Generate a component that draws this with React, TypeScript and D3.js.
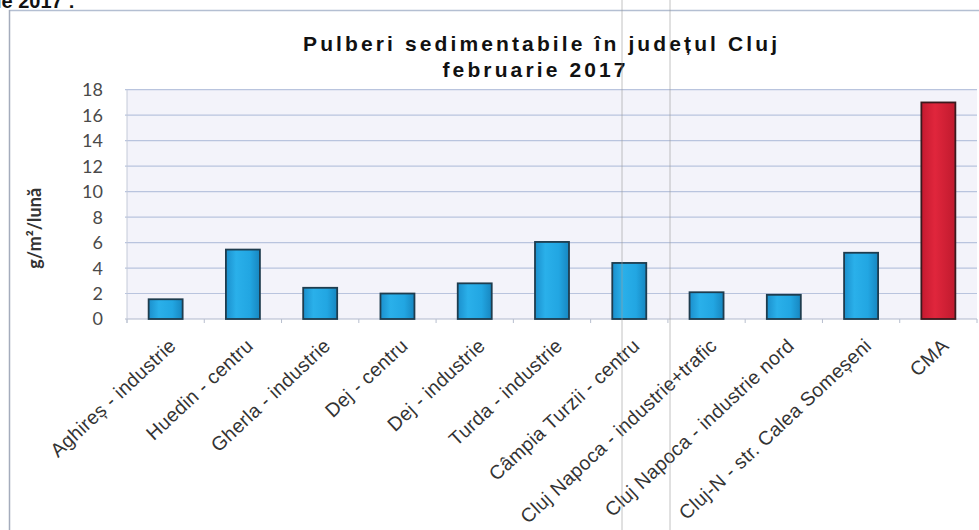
import React, { useRef, useEffect } from 'react';
import * as d3 from 'd3';

// Data
const stations = [
  'Aghireș - industrie',
  'Huedin - centru',
  'Gherla - industrie',
  'Dej - centru',
  'Dej - industrie',
  'Turda - industrie',
  'Câmpia Turzii - centru',
  'Cluj Napoca - industrie+trafic',
  'Cluj Napoca - industrie nord',
  'Cluj-N - str. Calea Someșeni',
  'CMA',
];
const values = [1.55, 5.45, 2.45, 2.0, 2.8, 6.05, 4.4, 2.1, 1.9, 5.2, 17.0];
const yTicks = [0, 2, 4, 6, 8, 10, 12, 14, 16, 18];
const titleLines = ['Pulberi sedimentabile în județul Cluj', 'februarie 2017'];
const yTitle = 'g/m²/lună';

const App = () => {
  const svgRef = useRef<SVGSVGElement>(null);

  useEffect(() => {
    const width = 979;
    const height = 530;
    const plot = { left: 127, right: 977, top: 89.7, bottom: 319 };

    const x = d3.scaleBand<string>()
      .domain(stations)
      .range([plot.left, plot.right])
      .paddingInner(0.56)
      .paddingOuter(0.28);

    const y = d3.scaleLinear()
      .domain([0, 18])
      .range([plot.bottom, plot.top]);

    const svg = d3.select(svgRef.current)
      .attr('width', width)
      .attr('height', height);

    svg.selectAll('*').remove();

    // Gradients for bars
    const defs = svg.append('defs');
    const blue = defs.append('linearGradient').attr('id', 'gBlue')
      .attr('x1', 0).attr('x2', 1).attr('y1', 0).attr('y2', 0);
    blue.append('stop').attr('offset', '0%').attr('stop-color', '#1b8fcc');
    blue.append('stop').attr('offset', '30%').attr('stop-color', '#2ab0ea');
    blue.append('stop').attr('offset', '70%').attr('stop-color', '#22a6e2');
    blue.append('stop').attr('offset', '100%').attr('stop-color', '#1786c0');
    const red = defs.append('linearGradient').attr('id', 'gRed')
      .attr('x1', 0).attr('x2', 1).attr('y1', 0).attr('y2', 0);
    red.append('stop').attr('offset', '0%').attr('stop-color', '#c51a30');
    red.append('stop').attr('offset', '40%').attr('stop-color', '#e0263c');
    red.append('stop').attr('offset', '100%').attr('stop-color', '#c01a2e');

    // Page fragment above the chart (cut by the scan)
    svg.append('text')
      .attr('x', -4).attr('y', 8)
      .attr('font-family', 'Liberation Sans, Arial, sans-serif')
      .attr('font-weight', 'bold')
      .attr('font-size', 20)
      .attr('fill', '#111')
      .text('le 2017 :');

    // Chart frame
    svg.append('line')
      .attr('x1', 9).attr('x2', width).attr('y1', 10.5).attr('y2', 10.5)
      .attr('stroke', '#b4bfd2').attr('stroke-width', 1.5);
    svg.append('line')
      .attr('x1', 9.5).attr('x2', 9.5).attr('y1', 10).attr('y2', height)
      .attr('stroke', '#a4acbc').attr('stroke-width', 1.5);

    // Plot area background
    svg.append('rect')
      .attr('x', plot.left).attr('y', plot.top)
      .attr('width', plot.right - plot.left).attr('height', plot.bottom - plot.top)
      .attr('fill', '#f3f3fa');

    // Grid lines
    svg.append('g')
      .selectAll('line')
      .data(yTicks)
      .enter()
      .append('line')
      .attr('x1', plot.left - 2)
      .attr('x2', plot.right)
      .attr('y1', d => y(d))
      .attr('y2', d => y(d))
      .attr('stroke', d => (d === 0 ? '#b0b8cc' : '#b9c4de'))
      .attr('stroke-width', 1.2);

    svg.append('line')
      .attr('x1', plot.left).attr('x2', plot.left)
      .attr('y1', plot.top).attr('y2', plot.bottom + 4)
      .attr('stroke', '#c4cad8');

    // Category tick marks
    const step = x.step();
    svg.append('g')
      .selectAll('line')
      .data(d3.range(stations.length + 1))
      .enter()
      .append('line')
      .attr('x1', i => plot.left + i * step)
      .attr('x2', i => plot.left + i * step)
      .attr('y1', plot.bottom)
      .attr('y2', plot.bottom + 4)
      .attr('stroke', '#b8bfcf');

    // Y tick labels
    svg.append('g')
      .selectAll('text')
      .data(yTicks)
      .enter()
      .append('text')
      .attr('x', 103)
      .attr('y', d => y(d))
      .attr('dy', '0.36em')
      .attr('text-anchor', 'end')
      .attr('font-family', 'Lato, Open Sans, sans-serif')
      .attr('font-size', 18)
      .attr('fill', '#4a4a4a')
      .text(d => d);

    // Y axis title
    svg.append('text')
      .attr('transform', `translate(41,${(plot.top + plot.bottom) / 2 + 24}) rotate(-90)`)
      .attr('text-anchor', 'middle')
      .attr('font-family', 'Lato, Open Sans, sans-serif')
      .attr('font-weight', 'bold')
      .attr('font-size', 18)
      .attr('fill', '#333')
      .text(yTitle);

    // Bars
    svg.append('g')
      .selectAll('rect')
      .data(stations)
      .enter()
      .append('rect')
      .attr('x', d => x(d) as number)
      .attr('y', (d, i) => y(values[i]))
      .attr('width', x.bandwidth())
      .attr('height', (d, i) => y(0) - y(values[i]))
      .attr('fill', d => (d === 'CMA' ? 'url(#gRed)' : 'url(#gBlue)'))
      .attr('stroke', d => (d === 'CMA' ? '#3a1a1e' : '#1e3c4e'))
      .attr('stroke-width', 1.8);

    // X labels
    svg.append('g')
      .selectAll('text')
      .data(stations)
      .enter()
      .append('text')
      .attr('transform', d => `translate(${(x(d) as number) + x.bandwidth() / 2 + 2},${plot.bottom + 18}) rotate(-43)`)
      .attr('text-anchor', 'end')
      .attr('dy', '0.72em')
      .attr('font-family', 'Liberation Sans, Arial, sans-serif')
      .attr('font-size', 19.5)
      .attr('letter-spacing', 0.3)
      .attr('fill', '#333')
      .text(d => d);

    // Title
    const titleWidths = [474, 183];
    svg.append('g')
      .selectAll('text')
      .data(titleLines)
      .enter()
      .append('text')
      .attr('x', (d, i) => (i === 0 ? 540 : 534))
      .attr('y', (d, i) => 51 + i * 26)
      .attr('text-anchor', 'middle')
      .attr('font-family', 'Liberation Sans, Arial, sans-serif')
      .attr('font-weight', 'bold')
      .attr('font-size', 21)
      .attr('textLength', (d, i) => titleWidths[i])
      .attr('lengthAdjust', 'spacing')
      .attr('fill', '#111')
      .text(d => d);

    // Scan streaks
    svg.append('g')
      .selectAll('line')
      .data([622, 670])
      .enter()
      .append('line')
      .attr('x1', d => d).attr('x2', d => d)
      .attr('y1', 0).attr('y2', height)
      .attr('stroke', '#9a9a9a')
      .attr('stroke-opacity', 0.6)
      .attr('stroke-width', 1);
  }, []);

  return (
    <svg ref={svgRef} style={{ position: 'absolute', left: 0, top: 0, background: '#fff' }}></svg>
  );
};

export default App;
